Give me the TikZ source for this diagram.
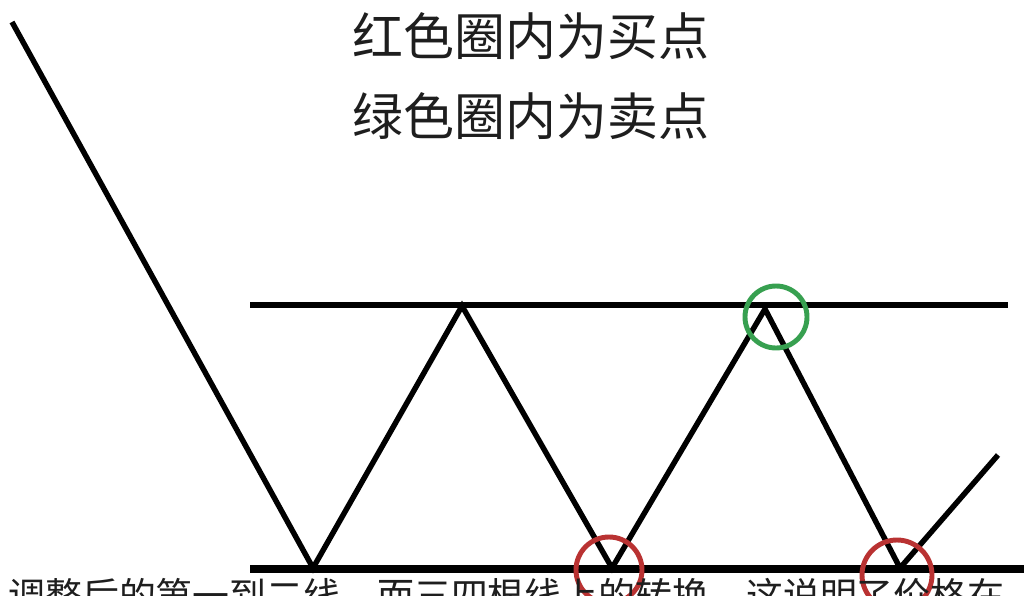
\documentclass[tikz,border=0pt]{standalone}
\usepackage{fontspec}
\newfontfamily\cjk{Noto Sans CJK SC}
\definecolor{buyred}{RGB}{185,50,50}
\definecolor{sellgreen}{RGB}{55,160,80}
\definecolor{ink}{RGB}{30,30,30}
\begin{document}
\begin{tikzpicture}[x=0.02cm,y=-0.02cm,
    trend/.style={line width=3.1pt,line join=miter},
    level/.style={line width=3.6pt},
    mark ring/.style={line width=2.8pt}]
    \clip (0,0) rectangle (1024,595);
    \fill[white] (0,0) rectangle (1024,595);

    \node[text=ink] (buy) at (531,36) {\cjk\fontsize{29pt}{34pt}\selectfont 红色圈内为买点};
    \node[text=ink] (sell) at (531,116) {\cjk\fontsize{29pt}{34pt}\selectfont 绿色圈内为卖点};

    % support and resistance
    \coordinate (r0) at (250,305);
    \coordinate (r1) at (1008,305);
    \coordinate (s0) at (250,569);
    \coordinate (s1) at (1030,569);
    \draw[level] (r0) -- (r1);
    \draw[level,line width=4.4pt] (s0) -- (s1);

    % price path
    \coordinate (p0) at (12,22);
    \coordinate (p1) at (313,568);
    \coordinate (p2) at (462,306);
    \coordinate (p3) at (612,568);
    \coordinate (p4) at (765,309);
    \coordinate (p5) at (900,568);
    \coordinate (p6) at (998,455);
    \draw[trend] (p0) -- (p1) -- (p2) -- (p3) -- (p4) -- (p5) -- (p6);

    \draw[mark ring,sellgreen] (776,317) circle (31);
    \draw[mark ring,buyred] (609,570) circle (33);
    \draw[mark ring,buyred] (897,575) circle (35);

    \node[anchor=north west,inner sep=0pt,text=ink] (note) at (8,578) {\cjk\fontsize{21pt}{25pt}\selectfont 调整后的第一到二线，而三四根线上的转换，这说明了价格在};
\end{tikzpicture}
\end{document}
